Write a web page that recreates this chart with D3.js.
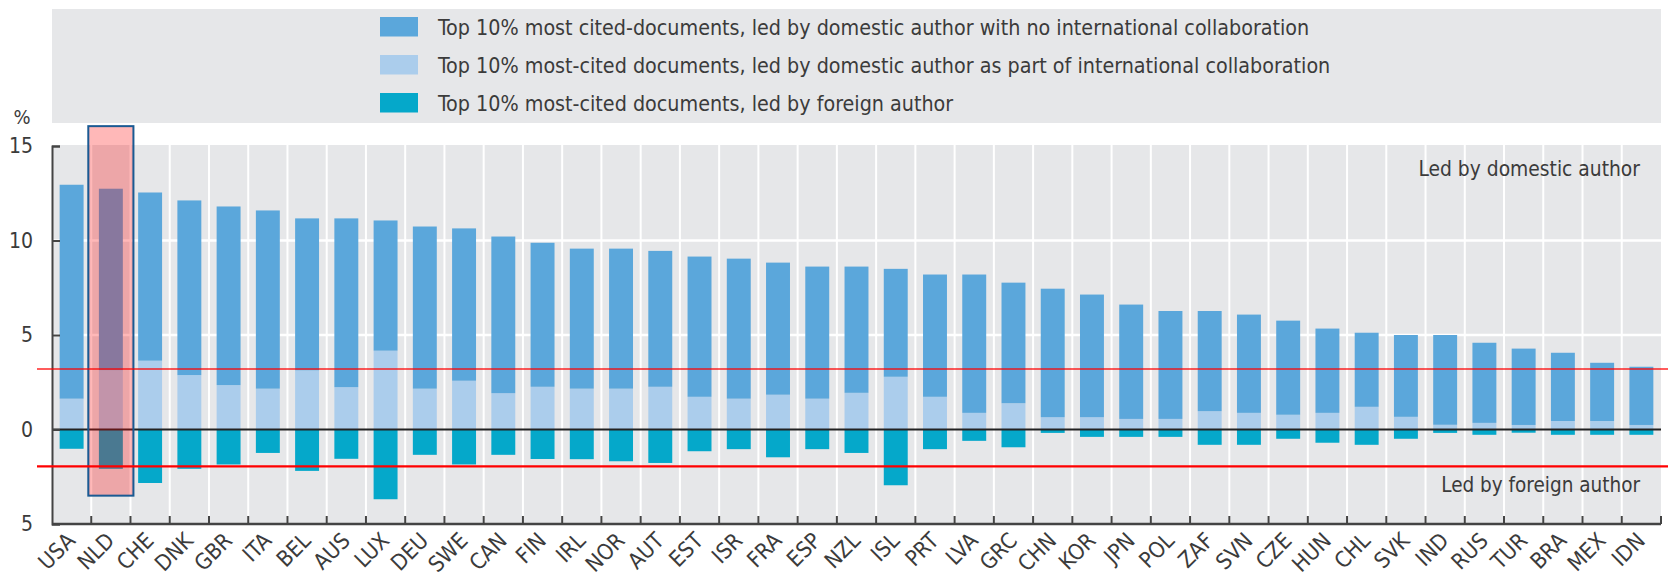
<!DOCTYPE html>
<html>
<head>
<meta charset="utf-8">
<script src="https://cdn.jsdelivr.net/npm/d3@7"></script>
<style>
  body { margin: 0; background: #fff; }
  svg text { font-family: "DejaVu Sans Condensed", "DejaVu Sans", sans-serif; fill: #3b3b3b; }
</style>
</head>
<body>
<div id="chart"></div>
<script>

// countries, in chart order
const countries = ["USA","NLD","CHE","DNK","GBR","ITA","BEL","AUS","LUX","DEU","SWE","CAN","FIN","IRL","NOR","AUT","EST","ISR","FRA","ESP","NZL","ISL","PRT","LVA","GRC","CHN","KOR","JPN","POL","ZAF","SVN","CZE","HUN","CHL","SVK","IND","RUS","TUR","BRA","MEX","IDN"];

// led by domestic author, as part of international collaboration (light blue, bottom of stack)
const domesticIntl = [1.63,3.14,3.64,2.88,2.35,2.16,3.13,2.24,4.17,2.16,2.58,1.92,2.26,2.16,2.16,2.26,1.73,1.63,1.84,1.63,1.94,2.79,1.73,0.88,1.39,0.65,0.65,0.56,0.56,0.97,0.88,0.78,0.88,1.20,0.67,0.25,0.35,0.24,0.45,0.45,0.24];

// led by domestic author, no international collaboration (dark blue, top of stack)
const domesticNoIntl = [11.32,9.60,8.90,9.24,9.45,9.43,8.04,8.93,6.89,8.58,8.06,8.29,7.62,7.41,7.41,7.19,7.42,7.41,6.99,6.99,6.68,5.71,6.47,7.32,6.38,6.80,6.49,6.05,5.71,5.30,5.20,4.98,4.46,3.92,4.33,4.75,4.24,4.04,3.61,3.08,3.08];

// led by foreign author (teal, below zero)
const foreignLed = [-1.02,-2.08,-2.83,-2.08,-1.85,-1.24,-2.19,-1.55,-3.69,-1.34,-1.85,-1.34,-1.56,-1.57,-1.68,-1.77,-1.15,-1.04,-1.47,-1.04,-1.24,-2.95,-1.04,-0.60,-0.94,-0.18,-0.39,-0.39,-0.39,-0.81,-0.81,-0.49,-0.70,-0.81,-0.49,-0.18,-0.28,-0.17,-0.28,-0.28,-0.28];

const legendLabels = [
  "Top 10% most cited-documents, led by domestic author with no international collaboration",
  "Top 10% most-cited documents, led by domestic author as part of international collaboration",
  "Top 10% most-cited documents, led by foreign author"
];
const yTicks = [-5, 0, 5, 10, 15];
const refLines = [3.2, -1.95];
const highlight = { country: "NLD", range: [-3.5, 16.05] };

const colors = ["#5ba7db", "#abcdec", "#05a8ca"];

const W = 1668, H = 583;
const margin = {top: 145, right: 7, bottom: 59, left: 52};
const width = W - margin.left - margin.right;
const height = H - margin.top - margin.bottom;

const svg = d3.select("#chart").append("svg")
    .attr("width", W)
    .attr("height", H);

// legend panel
const legend = svg.append("g");
legend.append("rect")
    .attr("x", margin.left).attr("y", 9)
    .attr("width", width).attr("height", 114)
    .attr("fill", "#e6e7e9");

legendLabels.forEach((lab, i) => {
    const yy = 17 + i * 38;
    legend.append("rect")
        .attr("x", 380).attr("y", yy)
        .attr("width", 38).attr("height", 19.5)
        .attr("fill", colors[i]);
    legend.append("text")
        .attr("x", 438).attr("y", yy + 10)
        .attr("dy", "0.36em")
        .style("font-size", "21.3px")
        .text(lab);
});

const g = svg.append("g")
    .attr("transform", "translate(" + margin.left + "," + margin.top + ")");

// scales
const x = d3.scaleBand()
    .domain(countries)
    .range([0, width])
    .paddingInner(0.39)
    .paddingOuter(0.195);

const y = d3.scaleLinear()
    .domain([-5, 15])
    .range([height, 1]);

const step = x.step();

// plot background
g.append("rect")
    .attr("width", width).attr("height", height)
    .attr("fill", "#e6e7e9");

// vertical white grid on band boundaries
g.selectAll(".vgrid")
    .data(countries.slice(1))
    .enter().append("line")
    .attr("x1", d => x(d) - step * 0.195).attr("x2", d => x(d) - step * 0.195)
    .attr("y1", 0).attr("y2", height)
    .attr("stroke", "#fff").attr("stroke-width", 2);

// horizontal white grid
g.selectAll(".hgrid")
    .data([5, 10])
    .enter().append("line")
    .attr("x1", 0).attr("x2", width)
    .attr("y1", d => y(d)).attr("y2", d => y(d))
    .attr("stroke", "#fff").attr("stroke-width", 2.5);

// stacked bars
const rows = countries.map((c, i) => ({
    c: c, intl: domesticIntl[i], noIntl: domesticNoIntl[i], foreign: foreignLed[i]
}));

g.selectAll(".bar-intl")
    .data(rows)
    .enter().append("rect")
    .attr("x", d => x(d.c)).attr("width", x.bandwidth())
    .attr("y", d => y(d.intl)).attr("height", d => y(0) - y(d.intl))
    .attr("fill", colors[1]);

g.selectAll(".bar-nointl")
    .data(rows)
    .enter().append("rect")
    .attr("x", d => x(d.c)).attr("width", x.bandwidth())
    .attr("y", d => y(d.intl + d.noIntl)).attr("height", d => y(d.intl) - y(d.intl + d.noIntl))
    .attr("fill", colors[0]);

g.selectAll(".bar-foreign")
    .data(rows)
    .enter().append("rect")
    .attr("x", d => x(d.c)).attr("width", x.bandwidth())
    .attr("y", y(0)).attr("height", d => y(d.foreign) - y(0))
    .attr("fill", colors[2]);

// zero line
g.append("line")
    .attr("x1", 0).attr("x2", width)
    .attr("y1", y(0)).attr("y2", y(0))
    .attr("stroke", "#222").attr("stroke-width", 2);

// y axis
const yAxis = d3.axisLeft(y)
    .tickValues(yTicks)
    .tickFormat(d => Math.abs(d))
    .tickSize(-8)
    .tickSizeOuter(-8)
    .tickPadding(19);

g.append("g")
    .attr("class", "y-axis")
    .call(yAxis)
    .call(a => a.selectAll("path, line").attr("stroke", "#444").attr("stroke-width", 2))
    .call(a => a.selectAll("text").style("font-size", "21px"));

// x axis: baseline + ticks on band boundaries
g.append("line")
    .attr("x1", 0).attr("x2", width)
    .attr("y1", height).attr("y2", height)
    .attr("stroke", "#444").attr("stroke-width", 2.5);

g.selectAll(".xtick")
    .data(countries)
    .enter().append("line")
    .attr("x1", d => x(d) + x.bandwidth() + step * 0.195)
    .attr("x2", d => x(d) + x.bandwidth() + step * 0.195)
    .attr("y1", height).attr("y2", height - 8)
    .attr("stroke", "#444").attr("stroke-width", 2);

g.selectAll(".xlabel")
    .data(countries)
    .enter().append("text")
    .attr("text-anchor", "end")
    .attr("transform", d => "translate(" + (x(d) + x.bandwidth() / 2 + 5) + "," + (height + 18) + ") rotate(-45)")
    .style("font-size", "22px")
    .text(d => d);

// "%" unit label
svg.append("text")
    .attr("x", 22).attr("y", 117)
    .attr("dy", "0.36em")
    .attr("text-anchor", "middle")
    .style("font-size", "20px")
    .text("%");

// region annotations
g.append("text")
    .attr("x", width - 21).attr("y", 31)
    .attr("text-anchor", "end")
    .style("font-size", "20.8px")
    .text("Led by domestic author");

g.append("text")
    .attr("x", width - 21).attr("y", 347)
    .attr("text-anchor", "end")
    .style("font-size", "20.5px")
    .text("Led by foreign author");

// highlight box
const hx = x(highlight.country) + x.bandwidth() / 2;
g.append("rect")
    .attr("x", hx - step * 0.575)
    .attr("width", step * 1.15)
    .attr("y", y(highlight.range[1]))
    .attr("height", y(highlight.range[0]) - y(highlight.range[1]))
    .attr("fill", "rgba(255,0,0,0.28)")
    .attr("stroke", "#1a5a93")
    .attr("stroke-width", 2);

// red reference lines
svg.selectAll(".refline")
    .data(refLines)
    .enter().append("line")
    .attr("x1", 37).attr("x2", W)
    .attr("y1", d => margin.top + y(d)).attr("y2", d => margin.top + y(d))
    .attr("stroke", "#ff0000")
    .attr("stroke-width", (d, i) => i === 0 ? 1.6 : 2.4)
    .attr("opacity", (d, i) => i === 0 ? 0.85 : 1);

</script>
</body>
</html>
